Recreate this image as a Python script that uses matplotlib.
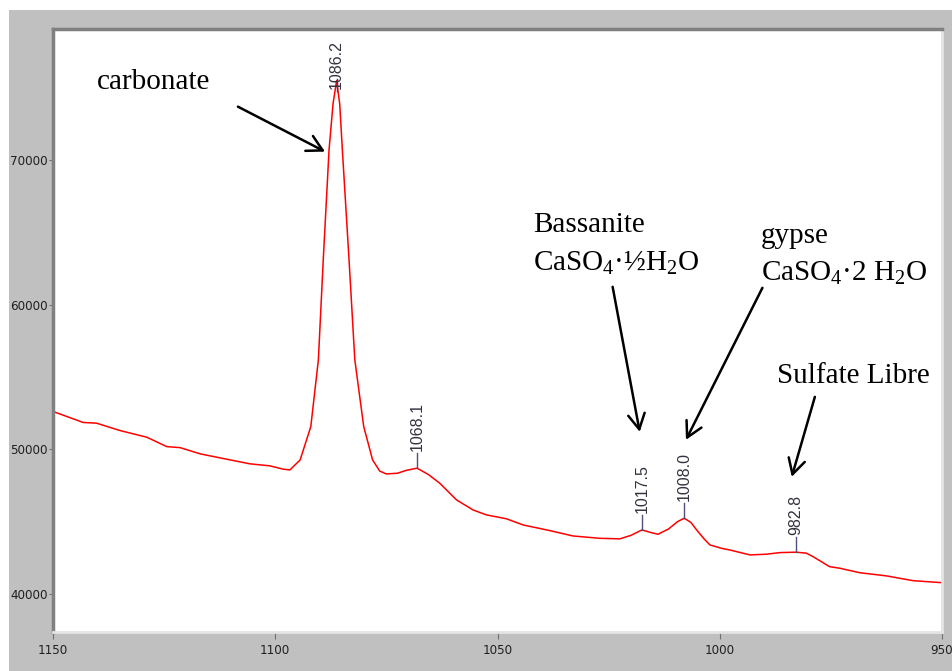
# Raman spectrum: carbonate / sulfate bands
import matplotlib.pyplot as plt
from matplotlib.patches import Rectangle

plt.rcParams['mathtext.fontset'] = 'custom'
plt.rcParams['mathtext.rm'] = 'Liberation Serif'
plt.rcParams['mathtext.it'] = 'Liberation Serif:italic'

# spectrum (cm-1, counts)
wavenumber = [1150.0, 1143.2, 1140.2, 1134.9, 1128.9, 1124.4, 1121.4, 1116.9,
              1112.4, 1105.7, 1101.2, 1098.2, 1096.7, 1094.4, 1092.0, 1090.3,
              1089.2, 1087.9, 1087.0, 1086.2, 1085.5, 1084.9, 1083.4, 1082.1,
              1080.1, 1078.1, 1076.5, 1075.0, 1072.5, 1070.5, 1068.1, 1065.5,
              1063.0, 1059.2, 1055.5, 1052.5, 1048.0, 1044.2, 1038.5, 1033.0,
              1027.0, 1022.5, 1020.0, 1017.5, 1015.5, 1013.9, 1011.5, 1009.5,
              1008.0, 1006.5, 1005.2, 1003.5, 1002.2, 999.5, 997.7, 993.2,
              989.5, 986.5, 982.8, 980.5, 979.0, 975.3, 973.0, 968.5, 962.5,
              956.5, 950.0]
intensity = [52620, 51860, 51810, 51300, 50840, 50190, 50120, 49690,
             49410, 49000, 48860, 48630, 48580, 49270, 51580, 56190,
             63110, 70700, 73900, 75500, 73900, 70700, 63110, 56190,
             51580, 49270, 48500, 48300, 48350, 48550, 48700, 48250,
             47660, 46500, 45810, 45470, 45200, 44770, 44400, 44010,
             43850, 43810, 44050, 44430, 44250, 44130, 44500, 45000,
             45240, 44950, 44430, 43800, 43390, 43150, 43040, 42700,
             42750, 42860, 42890, 42820, 42580, 41890, 41780, 41470, 41250,
             40920, 40780]

peak_pos = [1086.2, 1068.1, 1017.5, 1008.0, 982.8]
peak_val = [75500, 48700, 44430, 45240, 42890]
peak_txt = ['1086.2', '1068.1', '1017.5', '1008.0', '982.8']

xticks = [1150, 1100, 1050, 1000, 950]
yticks = [40000, 50000, 60000, 70000]

fig = plt.figure(figsize=(9.52, 6.71), dpi=100, facecolor='white')
# grey window background, with a thin white strip top and left
fig.patches.append(Rectangle((9 / 952, 0), 1, 1 - 10 / 671, transform=fig.transFigure,
                             facecolor='#c0c0c0', edgecolor='none', zorder=-10))
ax = fig.add_axes([53 / 952, 39 / 671, 889 / 952, 603 / 671])
ax.set_facecolor('white')

ax.plot(wavenumber, intensity, color='#ff0000', lw=1.1)

# peak markers
for p, v, t in zip(peak_pos, peak_val, peak_txt):
    if t == '1086.2':
        ax.plot([p, p], [v - 700, v + 100], color='#3a3a7a', lw=1)
        ax.text(p, 74900, t, rotation=90, ha='center', va='bottom',
                fontsize=11.5, family='Liberation Sans', color='#333340')
    else:
        ax.plot([p, p], [v, v + 1040], color='#50507a', lw=1)
        ax.text(p, v + 1180, t, rotation=90, ha='center', va='bottom',
                fontsize=11.5, family='Liberation Sans', color='#333340')

ax.set_xlim(1150, 950)
ax.set_ylim(37370, 79070)
ax.set_xticks(xticks)
ax.set_yticks(yticks)
ax.tick_params(axis='x', length=5, pad=4, color='#707070', labelsize=9.5)
ax.tick_params(axis='y', length=3, pad=1, color='#707070', labelsize=9.5)
for lab in ax.get_xticklabels() + ax.get_yticklabels():
    lab.set_family(['Liberation Sans Narrow', 'DejaVu Sans'])
    lab.set_stretch('condensed')
    lab.set_color('#202020')

for s in ['left', 'top']:
    ax.spines[s].set_color('#808080')
    ax.spines[s].set_linewidth(2.5)
for s in ['right', 'bottom']:
    ax.spines[s].set_color('#e4e4e4')
    ax.spines[s].set_linewidth(2)

# annotations
serif = dict(family='Liberation Serif', fontsize=21, color='black')
ax.text(1140.1, 74950, 'carbonate', **serif)
ax.text(1042.0, 65000, 'Bassanite', **serif)
ax.text(1042.0, 62350, r'CaSO$_\mathrm{4}$·½H$_\mathrm{2}$O', **serif)
ax.text(990.8, 64270, 'gypse', **serif)
ax.text(990.8, 61680, r'CaSO$_\mathrm{4}$·2 H$_\mathrm{2}$O', **serif)
ax.text(987.2, 54600, 'Sulfate Libre', **serif)

arr = dict(arrowstyle='->,head_length=1.1,head_width=0.6', color='black', lw=1.8,
           shrinkA=0, shrinkB=0)
ax.annotate('', xy=(1088.8, 70590), xytext=(1108.4, 73700), arrowprops=arr)
ax.annotate('', xy=(1018.0, 51210), xytext=(1024.1, 61240), arrowprops=arr)
ax.annotate('', xy=(1007.6, 50660), xytext=(990.4, 61170), arrowprops=arr)
ax.annotate('', xy=(983.8, 48100), xytext=(978.6, 53630), arrowprops=arr)

fig.savefig('out.png', dpi=100, facecolor=fig.get_facecolor())
